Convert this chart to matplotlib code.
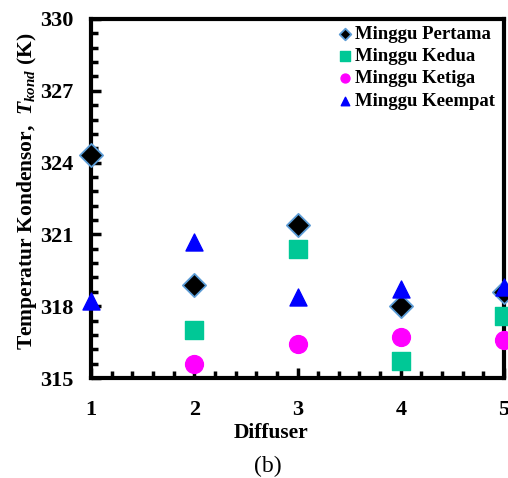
import matplotlib.pyplot as plt
from matplotlib.ticker import MultipleLocator

plt.rcParams['font.family'] = ['Liberation Serif', 'DejaVu Serif']
plt.rcParams['font.weight'] = 'bold'
plt.rcParams['mathtext.fontset'] = 'custom'
plt.rcParams['mathtext.rm'] = 'Liberation Serif:bold'
plt.rcParams['mathtext.it'] = 'Liberation Serif:italic:bold'
plt.rcParams['mathtext.bf'] = 'Liberation Serif:bold'

diffuser = [1, 2, 3, 4, 5]
pertama = [324.3, 318.9, 321.4, 318.0, 318.6]
kedua_x = [2, 3, 4, 5]
kedua = [317.0, 320.4, 315.7, 317.6]
ketiga_x = [2, 3, 4, 5]
ketiga = [315.6, 316.4, 316.7, 316.6]
keempat = [318.2, 320.7, 318.4, 318.7, 318.8]

fig = plt.figure(figsize=(5.08, 4.78), dpi=100)
ax = fig.add_axes([91 / 508, 1 - 378 / 478, 413 / 508, 359 / 478])

ax.scatter(diffuser, pertama, marker='D', s=140, facecolor='black',
           edgecolor='#5b9bd5', linewidth=1.3, label='Minggu Pertama', zorder=3, clip_on=False)
ax.scatter(kedua_x, kedua, marker='s', s=175, color='#00c896',
           label='Minggu Kedua', zorder=3, clip_on=False)
ax.scatter(ketiga_x, ketiga, marker='o', s=165, color='#ff00ff',
           label='Minggu Ketiga', zorder=3, clip_on=False)
ax.scatter(diffuser, keempat, marker='^', s=150, color='#0000ff',
           label='Minggu Keempat', zorder=4, clip_on=False)

ax.set_xlim(1, 5)
ax.set_ylim(315, 330)
ax.xaxis.set_major_locator(MultipleLocator(1))
ax.xaxis.set_minor_locator(MultipleLocator(0.2))
ax.yaxis.set_major_locator(MultipleLocator(3))
ax.yaxis.set_minor_locator(MultipleLocator(0.6))
ax.tick_params(which='both', direction='in', width=2.5, labelsize=16, top=False, right=False)
ax.tick_params(which='major', length=7)
ax.tick_params(axis='y', which='major', pad=12.5)
ax.tick_params(axis='x', which='major', pad=16)
ax.tick_params(which='minor', length=5)
for s in ax.spines.values():
    s.set_linewidth(3)

ax.set_xlabel('Diffuser', fontsize=15.5, fontweight='bold')
ax.xaxis.set_label_coords(0.436, -0.125)
ax.set_ylabel('Temperatur Kondensor,  $T_{kond}$ (K)', fontsize=15.5, fontweight='bold')
ax.yaxis.set_label_coords(-0.127, 0.52)

leg = ax.legend(loc='upper left', bbox_to_anchor=(0.575, 1.003), frameon=False, fontsize=13.5,
                handlelength=1.0, handletextpad=0.0, labelspacing=0.28, borderaxespad=0.0,
                markerscale=0.5, scatterpoints=1)

fig.text(0.527, 0.012, '(b)', fontsize=17, fontweight='normal', ha='center')

fig.savefig('out.png', dpi=100)
